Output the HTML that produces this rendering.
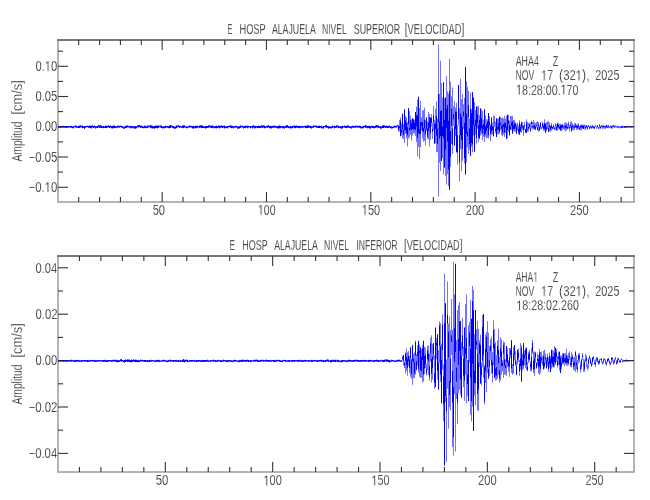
<!DOCTYPE html>
<html><head><meta charset="utf-8"><style>
html,body{margin:0;padding:0;background:#fff;}
svg{display:block;}
path.one{fill:#000;stroke:#fff;stroke-width:0.3px;vector-effect:non-scaling-stroke;}
text{font-family:"Liberation Sans",sans-serif;font-size:14px;fill:#000;stroke:#fff;stroke-width:0.3px;font-kerning:none;will-change:transform;}
</style></head><body>
<svg width="650" height="500" viewBox="0 0 650 500">
<rect width="650" height="500" fill="#fff"/>
<g class="t">
<text x="227.39" y="33.6" textLength="4.92" lengthAdjust="spacingAndGlyphs" font-size="14">E</text>
<text x="239.44" y="33.6" textLength="26.25" lengthAdjust="spacingAndGlyphs" font-size="14">HOSP</text>
<text x="271.88" y="33.6" textLength="43.93" lengthAdjust="spacingAndGlyphs" font-size="14">ALAJUELA</text>
<text x="322.00" y="33.6" textLength="24.79" lengthAdjust="spacingAndGlyphs" font-size="14">NIVEL</text>
<text x="353.70" y="33.6" textLength="46.52" lengthAdjust="spacingAndGlyphs" font-size="14">SUPERIOR</text>
<text x="404.67" y="33.6" textLength="59.56" lengthAdjust="spacingAndGlyphs" font-size="14"><tspan font-size="15.40">[</tspan>VELOCIDAD<tspan font-size="15.40">]</tspan></text>
<text x="229.53" y="249.8" textLength="5.41" lengthAdjust="spacingAndGlyphs" font-size="14">E</text>
<text x="242.16" y="249.8" textLength="25.62" lengthAdjust="spacingAndGlyphs" font-size="14">HOSP</text>
<text x="274.18" y="249.8" textLength="43.63" lengthAdjust="spacingAndGlyphs" font-size="14">ALAJUELA</text>
<text x="323.99" y="249.8" textLength="25.00" lengthAdjust="spacingAndGlyphs" font-size="14">NIVEL</text>
<text x="356.40" y="249.8" textLength="41.20" lengthAdjust="spacingAndGlyphs" font-size="14">INFERIOR</text>
<text x="403.88" y="249.8" textLength="58.64" lengthAdjust="spacingAndGlyphs" font-size="14"><tspan font-size="15.40">[</tspan>VELOCIDAD<tspan font-size="15.40">]</tspan></text>
<text x="35.46" y="71.0" textLength="21.88" lengthAdjust="spacingAndGlyphs" font-size="14">0. 0</text><path class="one" d="M515,0L515,1237L197,1010L197,1180L530,1409L696,1409L696,0Z" transform="translate(44.836,71.0) scale(0.005489,-0.006836)"/>
<text x="35.46" y="101.2" textLength="21.91" lengthAdjust="spacingAndGlyphs" font-size="14">0.05</text>
<text x="35.46" y="131.4" textLength="21.88" lengthAdjust="spacingAndGlyphs" font-size="14">0.00</text>
<text x="28.54" y="161.7" textLength="28.84" lengthAdjust="spacingAndGlyphs" font-size="14">−0.05</text>
<text x="28.54" y="192.0" textLength="28.81" lengthAdjust="spacingAndGlyphs" font-size="14">−0. 0</text><path class="one" d="M515,0L515,1237L197,1010L197,1180L530,1409L696,1409L696,0Z" transform="translate(44.682,192.0) scale(0.005559,-0.006836)"/>
<text x="35.46" y="272.5" textLength="21.76" lengthAdjust="spacingAndGlyphs" font-size="14">0.04</text>
<text x="35.46" y="318.9" textLength="22.01" lengthAdjust="spacingAndGlyphs" font-size="14">0.02</text>
<text x="35.46" y="365.3" textLength="21.88" lengthAdjust="spacingAndGlyphs" font-size="14">0.00</text>
<text x="28.54" y="411.7" textLength="28.94" lengthAdjust="spacingAndGlyphs" font-size="14">−0.02</text>
<text x="28.54" y="458.1" textLength="28.69" lengthAdjust="spacingAndGlyphs" font-size="14">−0.04</text>
<text x="152.65" y="214.8" textLength="12.38" lengthAdjust="spacingAndGlyphs" font-size="14">50</text>
<text x="258.00" y="214.8" textLength="17.62" lengthAdjust="spacingAndGlyphs" font-size="14"> 00</text><path class="one" d="M515,0L515,1237L197,1010L197,1180L530,1409L696,1409L696,0Z" transform="translate(257.996,214.8) scale(0.005156,-0.006836)"/>
<text x="361.87" y="214.8" textLength="18.26" lengthAdjust="spacingAndGlyphs" font-size="14"> 50</text><path class="one" d="M515,0L515,1237L197,1010L197,1180L530,1409L696,1409L696,0Z" transform="translate(361.866,214.8) scale(0.005344,-0.006836)"/>
<text x="465.74" y="214.8" textLength="18.49" lengthAdjust="spacingAndGlyphs" font-size="14">200</text>
<text x="570.04" y="214.8" textLength="18.60" lengthAdjust="spacingAndGlyphs" font-size="14">250</text>
<text x="155.74" y="485.4" textLength="12.70" lengthAdjust="spacingAndGlyphs" font-size="14">50</text>
<text x="263.47" y="485.4" textLength="18.26" lengthAdjust="spacingAndGlyphs" font-size="14"> 00</text><path class="one" d="M515,0L515,1237L197,1010L197,1180L530,1409L696,1409L696,0Z" transform="translate(263.466,485.4) scale(0.005344,-0.006836)"/>
<text x="371.48" y="485.4" textLength="17.94" lengthAdjust="spacingAndGlyphs" font-size="14"> 50</text><path class="one" d="M515,0L515,1237L197,1010L197,1180L530,1409L696,1409L696,0Z" transform="translate(371.481,485.4) scale(0.005250,-0.006836)"/>
<text x="478.04" y="485.4" textLength="18.60" lengthAdjust="spacingAndGlyphs" font-size="14">200</text>
<text x="585.45" y="485.4" textLength="18.17" lengthAdjust="spacingAndGlyphs" font-size="14">250</text>
<text transform="rotate(-90)" x="-161.52" y="21.5" textLength="39.98" lengthAdjust="spacingAndGlyphs">Amplitud</text>
<text transform="rotate(-90)" x="-114.80" y="21.5" textLength="34.81" lengthAdjust="spacingAndGlyphs"><tspan font-size="15.40">[</tspan>cm/s<tspan font-size="15.40">]</tspan></text>
<text transform="rotate(-90)" x="-404.52" y="21.5" textLength="39.98" lengthAdjust="spacingAndGlyphs">Amplitud</text>
<text transform="rotate(-90)" x="-357.80" y="21.5" textLength="34.81" lengthAdjust="spacingAndGlyphs"><tspan font-size="15.40">[</tspan>cm/s<tspan font-size="15.40">]</tspan></text>
<text x="515.68" y="65.9" textLength="23.18" lengthAdjust="spacingAndGlyphs" font-size="14">AHA4</text>
<text x="552.71" y="65.9" textLength="5.57" lengthAdjust="spacingAndGlyphs" font-size="14">Z</text>
<text x="515.48" y="80.2" textLength="18.96" lengthAdjust="spacingAndGlyphs" font-size="14">NOV</text>
<text x="541.18" y="80.2" textLength="11.96" lengthAdjust="spacingAndGlyphs" font-size="14"> 7</text><path class="one" d="M515,0L515,1237L197,1010L197,1180L530,1409L696,1409L696,0Z" transform="translate(541.181,80.2) scale(0.005250,-0.006836)"/>
<text x="559.04" y="80.2" textLength="30.28" lengthAdjust="spacingAndGlyphs" font-size="14"><tspan font-size="15.12">(</tspan>32 <tspan font-size="15.12">)</tspan>,</text><path class="one" d="M515,0L515,1237L197,1010L197,1180L530,1409L696,1409L696,0Z" transform="translate(575.761,80.2) scale(0.005547,-0.006836)"/>
<text x="595.25" y="80.2" textLength="24.20" lengthAdjust="spacingAndGlyphs" font-size="14">2025</text>
<text x="516.09" y="94.5" textLength="62.33" lengthAdjust="spacingAndGlyphs" font-size="14"> 8:28:00. 70</text><path class="one" d="M515,0L515,1237L197,1010L197,1180L530,1409L696,1409L696,0Z" transform="translate(516.087,94.5) scale(0.005212,-0.006836)"/><path class="one" d="M515,0L515,1237L197,1010L197,1180L530,1409L696,1409L696,0Z" transform="translate(560.606,94.5) scale(0.005212,-0.006836)"/>
<text x="515.68" y="281.9" textLength="22.13" lengthAdjust="spacingAndGlyphs" font-size="14">AHA </text><path class="one" d="M515,0L515,1237L197,1010L197,1180L530,1409L696,1409L696,0Z" transform="translate(533.102,281.9) scale(0.004136,-0.006836)"/>
<text x="552.71" y="281.9" textLength="5.57" lengthAdjust="spacingAndGlyphs" font-size="14">Z</text>
<text x="515.48" y="295.9" textLength="18.96" lengthAdjust="spacingAndGlyphs" font-size="14">NOV</text>
<text x="541.18" y="295.9" textLength="11.96" lengthAdjust="spacingAndGlyphs" font-size="14"> 7</text><path class="one" d="M515,0L515,1237L197,1010L197,1180L530,1409L696,1409L696,0Z" transform="translate(541.181,295.9) scale(0.005250,-0.006836)"/>
<text x="559.04" y="295.9" textLength="30.28" lengthAdjust="spacingAndGlyphs" font-size="14"><tspan font-size="15.12">(</tspan>32 <tspan font-size="15.12">)</tspan>,</text><path class="one" d="M515,0L515,1237L197,1010L197,1180L530,1409L696,1409L696,0Z" transform="translate(575.761,295.9) scale(0.005547,-0.006836)"/>
<text x="595.25" y="295.9" textLength="24.20" lengthAdjust="spacingAndGlyphs" font-size="14">2025</text>
<text x="516.28" y="310.4" textLength="62.64" lengthAdjust="spacingAndGlyphs" font-size="14"> 8:28:02.260</text><path class="one" d="M515,0L515,1237L197,1010L197,1180L530,1409L696,1409L696,0Z" transform="translate(516.283,310.4) scale(0.005238,-0.006836)"/>
</g>
<g stroke="#333" stroke-width="1.1">
<rect x="57" y="39" width="2" height="164" fill="#b4b4b4" stroke="none"/>
<rect x="633" y="39" width="2" height="164" fill="#b4b4b4" stroke="none"/>
<rect x="57" y="201" width="578" height="2" fill="#b4b4b4" stroke="none"/>
<rect x="57" y="39" width="578" height="2" fill="#777" stroke="none"/>
<line x1="78.71" y1="40" x2="78.71" y2="45" />
<line x1="78.71" y1="202" x2="78.71" y2="197" />
<line x1="99.58" y1="40" x2="99.58" y2="45" />
<line x1="99.58" y1="202" x2="99.58" y2="197" />
<line x1="120.44" y1="40" x2="120.44" y2="45" />
<line x1="120.44" y1="202" x2="120.44" y2="197" />
<line x1="141.30" y1="40" x2="141.30" y2="45" />
<line x1="141.30" y1="202" x2="141.30" y2="197" />
<line x1="162.16" y1="40" x2="162.16" y2="50" />
<line x1="162.16" y1="202" x2="162.16" y2="192" />
<line x1="183.03" y1="40" x2="183.03" y2="45" />
<line x1="183.03" y1="202" x2="183.03" y2="197" />
<line x1="203.89" y1="40" x2="203.89" y2="45" />
<line x1="203.89" y1="202" x2="203.89" y2="197" />
<line x1="224.75" y1="40" x2="224.75" y2="45" />
<line x1="224.75" y1="202" x2="224.75" y2="197" />
<line x1="245.62" y1="40" x2="245.62" y2="45" />
<line x1="245.62" y1="202" x2="245.62" y2="197" />
<line x1="266.48" y1="40" x2="266.48" y2="50" />
<line x1="266.48" y1="202" x2="266.48" y2="192" />
<line x1="287.34" y1="40" x2="287.34" y2="45" />
<line x1="287.34" y1="202" x2="287.34" y2="197" />
<line x1="308.21" y1="40" x2="308.21" y2="45" />
<line x1="308.21" y1="202" x2="308.21" y2="197" />
<line x1="329.07" y1="40" x2="329.07" y2="45" />
<line x1="329.07" y1="202" x2="329.07" y2="197" />
<line x1="349.93" y1="40" x2="349.93" y2="45" />
<line x1="349.93" y1="202" x2="349.93" y2="197" />
<line x1="370.80" y1="40" x2="370.80" y2="50" />
<line x1="370.80" y1="202" x2="370.80" y2="192" />
<line x1="391.66" y1="40" x2="391.66" y2="45" />
<line x1="391.66" y1="202" x2="391.66" y2="197" />
<line x1="412.52" y1="40" x2="412.52" y2="45" />
<line x1="412.52" y1="202" x2="412.52" y2="197" />
<line x1="433.38" y1="40" x2="433.38" y2="45" />
<line x1="433.38" y1="202" x2="433.38" y2="197" />
<line x1="454.25" y1="40" x2="454.25" y2="45" />
<line x1="454.25" y1="202" x2="454.25" y2="197" />
<line x1="475.11" y1="40" x2="475.11" y2="50" />
<line x1="475.11" y1="202" x2="475.11" y2="192" />
<line x1="495.97" y1="40" x2="495.97" y2="45" />
<line x1="495.97" y1="202" x2="495.97" y2="197" />
<line x1="516.84" y1="40" x2="516.84" y2="45" />
<line x1="516.84" y1="202" x2="516.84" y2="197" />
<line x1="537.70" y1="40" x2="537.70" y2="45" />
<line x1="537.70" y1="202" x2="537.70" y2="197" />
<line x1="558.56" y1="40" x2="558.56" y2="45" />
<line x1="558.56" y1="202" x2="558.56" y2="197" />
<line x1="579.43" y1="40" x2="579.43" y2="50" />
<line x1="579.43" y1="202" x2="579.43" y2="192" />
<line x1="600.29" y1="40" x2="600.29" y2="45" />
<line x1="600.29" y1="202" x2="600.29" y2="197" />
<line x1="621.15" y1="40" x2="621.15" y2="45" />
<line x1="621.15" y1="202" x2="621.15" y2="197" />
<line x1="58" y1="66.30" x2="68" y2="66.30" />
<line x1="634" y1="66.30" x2="624" y2="66.30" />
<line x1="58" y1="96.50" x2="68" y2="96.50" />
<line x1="634" y1="96.50" x2="624" y2="96.50" />
<line x1="58" y1="126.70" x2="68" y2="126.70" />
<line x1="634" y1="126.70" x2="624" y2="126.70" />
<line x1="58" y1="157.00" x2="68" y2="157.00" />
<line x1="634" y1="157.00" x2="624" y2="157.00" />
<line x1="58" y1="187.30" x2="68" y2="187.30" />
<line x1="634" y1="187.30" x2="624" y2="187.30" />
<line x1="58" y1="51.20" x2="63" y2="51.20" />
<line x1="634" y1="51.20" x2="629" y2="51.20" />
<line x1="58" y1="81.40" x2="63" y2="81.40" />
<line x1="634" y1="81.40" x2="629" y2="81.40" />
<line x1="58" y1="111.60" x2="63" y2="111.60" />
<line x1="634" y1="111.60" x2="629" y2="111.60" />
<line x1="58" y1="141.90" x2="63" y2="141.90" />
<line x1="634" y1="141.90" x2="629" y2="141.90" />
<line x1="58" y1="172.10" x2="63" y2="172.10" />
<line x1="634" y1="172.10" x2="629" y2="172.10" />
<rect x="57" y="255" width="2" height="218" fill="#b4b4b4" stroke="none"/>
<rect x="633" y="255" width="2" height="218" fill="#b4b4b4" stroke="none"/>
<rect x="57" y="471" width="578" height="2" fill="#b4b4b4" stroke="none"/>
<rect x="57" y="255" width="578" height="2" fill="#777" stroke="none"/>
<line x1="79.44" y1="256" x2="79.44" y2="261" />
<line x1="79.44" y1="472" x2="79.44" y2="467" />
<line x1="100.91" y1="256" x2="100.91" y2="261" />
<line x1="100.91" y1="472" x2="100.91" y2="467" />
<line x1="122.38" y1="256" x2="122.38" y2="261" />
<line x1="122.38" y1="472" x2="122.38" y2="467" />
<line x1="143.85" y1="256" x2="143.85" y2="261" />
<line x1="143.85" y1="472" x2="143.85" y2="467" />
<line x1="165.31" y1="256" x2="165.31" y2="266" />
<line x1="165.31" y1="472" x2="165.31" y2="462" />
<line x1="186.78" y1="256" x2="186.78" y2="261" />
<line x1="186.78" y1="472" x2="186.78" y2="467" />
<line x1="208.25" y1="256" x2="208.25" y2="261" />
<line x1="208.25" y1="472" x2="208.25" y2="467" />
<line x1="229.72" y1="256" x2="229.72" y2="261" />
<line x1="229.72" y1="472" x2="229.72" y2="467" />
<line x1="251.19" y1="256" x2="251.19" y2="261" />
<line x1="251.19" y1="472" x2="251.19" y2="467" />
<line x1="272.66" y1="256" x2="272.66" y2="266" />
<line x1="272.66" y1="472" x2="272.66" y2="462" />
<line x1="294.13" y1="256" x2="294.13" y2="261" />
<line x1="294.13" y1="472" x2="294.13" y2="467" />
<line x1="315.60" y1="256" x2="315.60" y2="261" />
<line x1="315.60" y1="472" x2="315.60" y2="467" />
<line x1="337.07" y1="256" x2="337.07" y2="261" />
<line x1="337.07" y1="472" x2="337.07" y2="467" />
<line x1="358.54" y1="256" x2="358.54" y2="261" />
<line x1="358.54" y1="472" x2="358.54" y2="467" />
<line x1="380.00" y1="256" x2="380.00" y2="266" />
<line x1="380.00" y1="472" x2="380.00" y2="462" />
<line x1="401.47" y1="256" x2="401.47" y2="261" />
<line x1="401.47" y1="472" x2="401.47" y2="467" />
<line x1="422.94" y1="256" x2="422.94" y2="261" />
<line x1="422.94" y1="472" x2="422.94" y2="467" />
<line x1="444.41" y1="256" x2="444.41" y2="261" />
<line x1="444.41" y1="472" x2="444.41" y2="467" />
<line x1="465.88" y1="256" x2="465.88" y2="261" />
<line x1="465.88" y1="472" x2="465.88" y2="467" />
<line x1="487.35" y1="256" x2="487.35" y2="266" />
<line x1="487.35" y1="472" x2="487.35" y2="462" />
<line x1="508.82" y1="256" x2="508.82" y2="261" />
<line x1="508.82" y1="472" x2="508.82" y2="467" />
<line x1="530.29" y1="256" x2="530.29" y2="261" />
<line x1="530.29" y1="472" x2="530.29" y2="467" />
<line x1="551.76" y1="256" x2="551.76" y2="261" />
<line x1="551.76" y1="472" x2="551.76" y2="467" />
<line x1="573.23" y1="256" x2="573.23" y2="261" />
<line x1="573.23" y1="472" x2="573.23" y2="467" />
<line x1="594.70" y1="256" x2="594.70" y2="266" />
<line x1="594.70" y1="472" x2="594.70" y2="462" />
<line x1="616.16" y1="256" x2="616.16" y2="261" />
<line x1="616.16" y1="472" x2="616.16" y2="467" />
<line x1="58" y1="267.80" x2="68" y2="267.80" />
<line x1="634" y1="267.80" x2="624" y2="267.80" />
<line x1="58" y1="314.20" x2="68" y2="314.20" />
<line x1="634" y1="314.20" x2="624" y2="314.20" />
<line x1="58" y1="360.60" x2="68" y2="360.60" />
<line x1="634" y1="360.60" x2="624" y2="360.60" />
<line x1="58" y1="407.00" x2="68" y2="407.00" />
<line x1="634" y1="407.00" x2="624" y2="407.00" />
<line x1="58" y1="453.40" x2="68" y2="453.40" />
<line x1="634" y1="453.40" x2="624" y2="453.40" />
<line x1="58" y1="291.00" x2="63" y2="291.00" />
<line x1="634" y1="291.00" x2="629" y2="291.00" />
<line x1="58" y1="337.40" x2="63" y2="337.40" />
<line x1="634" y1="337.40" x2="629" y2="337.40" />
<line x1="58" y1="383.80" x2="63" y2="383.80" />
<line x1="634" y1="383.80" x2="629" y2="383.80" />
<line x1="58" y1="430.20" x2="63" y2="430.20" />
<line x1="634" y1="430.20" x2="629" y2="430.20" />
</g>
<g stroke="#0000ff" stroke-width="1" fill="none" stroke-linecap="butt">
<path d="M397.5 124.5V127.3M398.5 124.9V131.9M399.5 119.8V131.3M400.5 117.5V136.2M401.5 122.9V135.7M402.5 113.9V138.7M403.5 124.0V138.7M404.5 109.4V143.0M405.5 115.7V133.8M406.5 117.2V138.2M407.5 122.0V146.4M408.5 108.1V138.7M409.5 110.9V137.0M410.5 115.7V134.6M411.5 119.4V140.4M412.5 118.4V135.6M413.5 119.3V133.3M414.5 119.6V133.6M415.5 112.0V136.0M416.5 106.8V142.1M417.5 99.5V156.6M418.5 96.8V146.8M419.5 108.0V159.1M420.5 101.0V147.2M421.5 117.4V130.4M422.5 110.3V138.7M423.5 110.3V141.7M424.5 107.6V140.8M425.5 120.2V145.5M426.5 117.5V130.8M427.5 121.3V139.2M428.5 112.0V139.3M429.5 114.0V146.4M430.5 117.5V139.8M431.5 114.0V126.5M432.5 122.6V139.0M433.5 105.8V130.4M434.5 119.7V143.8M435.5 108.5V143.2M436.5 101.3V152.3M437.5 118.7V152.0M438.5 44.5V196.5M439.5 94.0V162.7M440.5 60.7V171.0M441.5 83.1V160.8M442.5 97.7V157.9M443.5 82.3V174.4M444.5 98.2V167.6M445.5 97.7V176.1M446.5 76.0V184.6M447.5 91.4V174.2M448.5 93.8V185.9M449.5 58.9V189.7M450.5 81.4V166.9M451.5 96.2V144.1M452.5 87.7V154.0M453.5 106.2V126.0M454.5 101.3V145.5M455.5 107.6V136.3M456.5 102.8V152.3M457.5 125.4V164.4M458.5 85.0V125.4M459.5 108.3V181.2M460.5 78.7V149.4M461.5 99.3V171.0M462.5 94.0V160.8M463.5 104.2V128.9M464.5 97.7V163.6M465.5 67.0V174.4M466.5 81.4V162.5M467.5 86.8V147.4M468.5 90.9V154.0M469.5 118.6V149.9M470.5 92.3V155.7M471.5 109.2V146.7M472.5 92.3V152.3M473.5 97.7V135.6M474.5 102.2V151.5M475.5 109.9V134.7M476.5 106.7V143.8M477.5 106.4V128.6M478.5 105.8V142.1M479.5 115.2V138.7M480.5 108.5V135.6M481.5 109.4V134.2M482.5 111.2V140.4M483.5 119.7V136.8M484.5 109.4V142.0M485.5 115.7V136.7M486.5 119.4V138.3M487.5 119.4V137.9M488.5 113.0V138.5M489.5 116.0V129.6M490.5 124.4V141.3M491.5 117.5V135.1M492.5 122.8V134.3M493.5 115.7V136.2M494.5 116.0V127.1M495.5 122.2V133.4M496.5 118.4V137.0M497.5 118.7V134.2M498.5 118.4V134.5M499.5 116.6V134.2M500.5 117.1V130.5M501.5 117.8V135.4M502.5 117.5V136.2M503.5 118.5V134.6M504.5 115.7V136.8M505.5 118.6V133.0M506.5 115.7V138.7M507.5 114.8V138.2M508.5 114.8V131.9M509.5 120.7V135.3M510.5 115.7V130.2M511.5 116.0V129.7M512.5 115.7V133.6M513.5 119.9V131.3M514.5 119.9V131.6M515.5 122.0V131.6M516.5 123.9V133.6M517.5 122.8V130.3M518.5 125.6V134.7M519.5 120.2V134.5M520.5 124.3V132.3M521.5 121.3V132.7M522.5 122.0V130.2M523.5 125.2V136.2M524.5 121.9V129.5M525.5 128.7V133.2M526.5 119.3V132.8M527.5 121.8V131.6M528.5 122.8V131.5M529.5 122.8V128.8M530.5 122.9V131.9M531.5 120.7V128.5M532.5 121.9V129.4M533.5 120.2V129.4M534.5 122.1V129.8M535.5 123.0V130.2M536.5 122.1V127.4M537.5 121.1V130.0M538.5 122.1V131.9M539.5 125.4V130.9M540.5 122.0V129.0M541.5 127.2V129.4M542.5 121.6V128.2M543.5 123.6V130.7M544.5 119.3V130.7M545.5 122.9V132.8M546.5 122.3V131.1M547.5 121.5V129.0M548.5 121.1V131.9M549.5 122.5V131.5M550.5 125.8V131.7M551.5 122.9V130.7M552.5 126.6V129.5M553.5 124.1V129.0M554.5 126.7V130.3M555.5 123.2V129.8M556.5 124.5V130.8M557.5 122.5V130.8M558.5 122.9V128.8M559.5 124.1V129.8M560.5 123.6V131.0M561.5 124.2V131.0M562.5 123.9V129.8M563.5 125.3V129.2M564.5 123.0V130.1M565.5 122.5V131.5M566.5 122.5V130.6M567.5 123.8V129.1M568.5 121.6V128.7M569.5 125.3V131.4M570.5 121.9V128.2M571.5 121.2V131.5M572.5 123.2V130.1M573.5 124.8V130.1M574.5 123.5V130.3M575.5 123.0V128.1M576.5 124.3V129.9M577.5 124.5V129.6M578.5 123.1V129.6M579.5 126.5V130.0M580.5 124.9V130.4M581.5 124.4V130.4M582.5 124.5V128.9M583.5 124.6V129.2M584.5 124.7V129.2M585.5 125.4V130.0M586.5 124.9V128.4M587.5 125.3V129.6M588.5 125.1V126.9M589.5 126.1V129.4M590.5 124.9V128.3M591.5 125.9V128.8M592.5 124.8V127.9M593.5 126.0V129.0M594.5 125.8V129.0M595.5 124.8V126.6M596.5 126.4V128.9M597.5 125.1V127.5M598.5 126.9V129.2M599.5 124.1V128.7M600.5 125.8V129.0M601.5 125.1V127.4M602.5 125.3V128.9M603.5 124.6V128.6M604.5 125.7V128.8M605.5 125.6V128.7M606.5 124.6V128.0M607.5 125.0V128.1M608.5 124.9V128.1M609.5 126.7V128.4M610.5 125.2V127.9M611.5 125.9V128.9M612.5 125.1V128.5M613.5 124.6V127.4M614.5 125.8V128.0M615.5 125.1V127.4M616.5 126.4V127.9M617.5 125.5V128.2M618.5 125.9V128.2M619.5 126.6V128.3M620.5 126.4V128.1M621.5 125.7V128.1M622.5 126.0V127.8M623.5 125.8V127.9M624.5 126.3V128.1M625.5 126.1V127.9M626.5 126.5V127.9M627.5 126.4V127.8M628.5 125.8V127.4M629.5 126.2V127.2M630.5 126.2V127.4M631.5 126.2V127.5M632.5 126.1V127.3M633.5 126.6V127.5" stroke-opacity="0.55"/>
<path d="M402.5 355.8V360.9M403.5 355.0V365.5M404.5 360.9V368.0M405.5 352.4V373.4M406.5 348.5V370.9M407.5 352.4V375.7M408.5 351.0V366.0M409.5 356.0V372.5M410.5 347.4V376.8M411.5 358.5V378.6M412.5 345.2V384.9M413.5 353.9V378.0M414.5 352.6V378.0M415.5 340.6V374.5M416.5 354.2V370.6M417.5 345.1V365.8M418.5 340.8V372.6M419.5 344.6V376.8M420.5 347.4V377.8M421.5 349.3V377.8M422.5 344.9V382.6M423.5 340.8V381.4M424.5 346.9V374.3M425.5 347.5V368.4M426.5 363.7V375.4M427.5 345.6V370.3M428.5 345.6V375.0M429.5 353.0V380.7M430.5 337.8V361.7M431.5 335.3V382.6M432.5 344.1V379.7M433.5 343.0V359.6M434.5 355.2V388.7M435.5 327.6V387.2M436.5 338.2V359.0M437.5 334.2V379.8M438.5 350.4V389.5M439.5 321.3V363.1M440.5 323.2V381.8M441.5 343.6V403.3M442.5 314.4V369.7M443.5 364.4V421.5M444.5 273.7V465.4M445.5 303.4V402.0M446.5 359.3V461.8M447.5 281.4V388.7M448.5 323.6V428.6M449.5 316.6V407.1M450.5 330.2V410.2M451.5 299.0V354.8M452.5 329.9V447.0M453.5 261.6V455.6M454.5 294.6V394.1M455.5 263.8V451.6M456.5 340.1V398.9M457.5 310.0V424.0M458.5 305.1V393.1M459.5 302.3V389.5M460.5 321.0V394.8M461.5 341.9V397.5M462.5 317.7V356.2M463.5 346.6V387.4M464.5 327.6V401.0M465.5 304.0V374.6M466.5 294.6V403.3M467.5 360.0V395.7M468.5 325.4V401.0M469.5 321.8V362.4M470.5 300.0V414.8M471.5 318.8V421.6M472.5 285.8V406.6M473.5 289.6V430.9M474.5 334.1V395.7M475.5 310.0V405.6M476.5 329.4V349.7M477.5 321.0V410.2M478.5 328.9V411.0M479.5 340.3V367.0M480.5 334.6V383.5M481.5 362.7V385.4M482.5 315.0V367.1M483.5 314.0V377.8M484.5 365.0V404.3M485.5 334.6V383.0M486.5 331.9V392.0M487.5 321.3V373.0M488.5 332.7V379.1M489.5 346.1V375.9M490.5 339.3V359.5M491.5 336.5V373.8M492.5 352.0V382.6M493.5 320.4V365.0M494.5 328.7V377.8M495.5 342.2V380.6M496.5 354.8V380.4M497.5 340.2V378.8M498.5 328.9V374.8M499.5 356.8V382.4M500.5 337.0V380.6M501.5 339.4V374.7M502.5 359.9V371.4M503.5 341.3V377.8M504.5 342.2V374.5M505.5 359.6V374.9M506.5 346.0V375.9M507.5 348.4V367.4M508.5 360.0V371.8M509.5 347.9V376.9M510.5 347.9V358.2M511.5 340.3V373.1M512.5 363.9V374.7M513.5 346.7V374.0M514.5 345.0V360.4M515.5 351.4V366.0M516.5 360.7V375.0M517.5 349.8V364.7M518.5 348.3V362.0M519.5 360.1V375.9M520.5 343.2V369.6M521.5 345.2V381.6M522.5 353.7V370.4M523.5 343.2V369.1M524.5 350.5V365.4M525.5 347.4V368.3M526.5 347.9V370.2M527.5 362.1V371.3M528.5 351.7V363.0M529.5 349.8V361.6M530.5 361.2V371.2M531.5 347.6V371.3M532.5 340.0V353.8M533.5 351.4V373.1M534.5 351.7V375.9M535.5 351.7V362.5M536.5 362.5V368.3M537.5 353.6V365.5M538.5 354.8V373.6M539.5 348.8V375.0M540.5 352.0V372.9M541.5 351.4V362.8M542.5 355.6V365.8M543.5 350.9V369.3M544.5 349.8V368.5M545.5 353.5V363.9M546.5 357.4V368.3M547.5 353.6V365.9M548.5 357.4V371.8M549.5 352.7V367.5M550.5 355.9V372.1M551.5 349.8V368.8M552.5 350.0V367.2M553.5 351.1V367.7M554.5 346.0V367.4M555.5 347.9V365.0M556.5 348.8V361.8M557.5 356.2V367.5M558.5 351.7V365.4M559.5 351.7V370.6M560.5 355.4V373.0M561.5 355.4V369.1M562.5 353.0V364.2M563.5 353.6V364.1M564.5 353.4V366.4M565.5 353.2V364.4M566.5 348.9V365.7M567.5 355.2V365.5M568.5 352.9V365.2M569.5 351.4V360.2M570.5 357.4V367.0M571.5 352.2V367.6M572.5 354.2V361.8M573.5 357.5V370.3M574.5 356.9V370.3M575.5 351.6V371.9M576.5 355.2V369.6M577.5 359.9V372.6M578.5 353.3V363.6M579.5 353.0V362.3M580.5 362.3V372.6M581.5 358.5V369.2M582.5 353.1V359.6M583.5 358.9V371.8M584.5 359.5V371.8M585.5 353.8V362.0M586.5 355.1V367.1M587.5 364.2V370.4M588.5 358.0V368.5M589.5 355.6V359.8M590.5 357.7V364.2M591.5 361.9V366.8M592.5 356.6V364.8M593.5 356.2V360.3M594.5 360.3V364.8M595.5 359.3V367.0M596.5 357.0V361.8M597.5 357.4V362.2M598.5 360.6V364.9M599.5 358.9V364.1M600.5 358.8V360.1M601.5 358.2V362.6M602.5 361.4V364.5M603.5 358.0V363.9M604.5 358.4V360.3M605.5 359.2V364.3M606.5 361.7V365.8M607.5 358.4V362.6M608.5 357.9V361.3M609.5 360.2V364.6M610.5 362.2V365.1M611.5 357.2V363.0M612.5 357.6V362.0M613.5 360.5V364.6M614.5 358.9V363.5M615.5 356.8V360.3M616.5 360.1V364.7M617.5 357.9V363.7M618.5 358.0V360.5M619.5 360.1V362.9M620.5 359.4V362.6M621.5 358.4V360.3M622.5 360.0V362.2M623.5 359.7V362.2M624.5 360.0V361.2M625.5 360.5V361.9M626.5 359.4V361.1M627.5 360.1V361.6M628.5 360.1V361.4M629.5 359.9V361.0M630.5 360.6V361.2M631.5 360.1V361.1M632.5 360.1V360.9M633.5 360.7V361.0" stroke-opacity="0.55"/>
<path d="M58.5 126.2V127.8M59.5 126.1V127.6M60.5 126.2V127.8M61.5 126.0V127.6M62.5 126.3V127.6M63.5 125.8V127.5M64.5 126.0V127.6M65.5 126.2V127.7M66.5 126.2V127.8M67.5 126.3V127.6M68.5 126.0V127.7M69.5 126.1V127.3M70.5 125.9V127.9M71.5 125.8V127.7M72.5 126.3V128.2M73.5 126.3V128.4M74.5 125.9V127.3M75.5 125.5V127.3M76.5 125.8V127.9M77.5 126.4V127.8M78.5 125.9V128.0M79.5 125.6V128.0M80.5 125.2V127.5M81.5 125.9V127.5M82.5 125.6V128.1M83.5 126.4V128.0M84.5 126.1V128.8M85.5 126.0V127.7M86.5 126.1V127.4M87.5 125.7V127.1M88.5 126.0V127.9M89.5 125.5V127.7M90.5 125.7V128.2M91.5 125.6V128.4M92.5 125.4V127.4M93.5 125.9V127.9M94.5 125.5V127.7M95.5 126.3V128.5M96.5 126.4V128.0M97.5 126.0V128.1M98.5 125.2V127.4M99.5 125.4V127.9M100.5 125.4V127.9M101.5 125.6V128.0M102.5 126.2V127.9M103.5 125.9V128.2M104.5 126.3V127.9M105.5 125.7V128.1M106.5 125.8V128.0M107.5 125.8V127.6M108.5 125.5V127.4M109.5 125.7V128.0M110.5 125.6V127.5M111.5 126.1V128.3M112.5 125.9V128.5M113.5 125.6V128.0M114.5 125.5V128.2M115.5 126.0V127.8M116.5 126.5V128.1M117.5 125.7V127.8M118.5 125.6V127.4M119.5 125.9V127.8M120.5 125.6V127.1M121.5 125.9V127.8M122.5 126.0V127.7M123.5 126.7V128.9M124.5 126.6V128.5M125.5 125.9V128.1M126.5 125.5V128.0M127.5 125.5V127.3M128.5 126.1V127.5M129.5 125.6V127.6M130.5 126.3V128.4M131.5 126.0V128.2M132.5 126.0V127.7M133.5 126.3V128.4M134.5 126.2V128.5M135.5 126.1V128.7M136.5 126.3V128.3M137.5 125.6V127.3M138.5 125.0V127.4M139.5 125.1V127.2M140.5 125.7V127.8M141.5 125.7V127.7M142.5 126.1V128.1M143.5 126.5V128.2M144.5 125.7V127.9M145.5 125.9V128.3M146.5 126.4V128.1M147.5 125.4V127.8M148.5 125.7V127.4M149.5 125.7V127.3M150.5 125.1V127.8M151.5 125.4V128.2M152.5 125.9V128.5M153.5 126.1V128.2M154.5 125.9V128.7M155.5 125.7V128.2M156.5 125.7V128.0M157.5 125.4V128.3M158.5 125.7V128.0M159.5 125.7V127.1M160.5 125.4V127.5M161.5 125.7V128.0M162.5 126.5V128.4M163.5 126.3V128.2M164.5 126.3V128.4M165.5 125.7V127.9M166.5 126.1V127.7M167.5 125.9V127.6M168.5 126.2V128.2M169.5 125.4V128.2M170.5 125.1V128.0M171.5 125.6V127.2M172.5 125.9V127.8M173.5 126.1V128.2M174.5 126.6V128.9M175.5 126.6V128.5M176.5 125.5V128.2M177.5 125.6V127.3M178.5 125.1V127.1M179.5 126.0V127.8M180.5 125.8V127.6M181.5 126.4V127.8M182.5 125.6V127.9M183.5 125.3V128.1M184.5 125.4V127.6M185.5 126.4V127.8M186.5 126.3V128.2M187.5 126.5V128.2M188.5 126.0V127.5M189.5 125.5V127.7M190.5 125.5V127.3M191.5 126.0V127.6M192.5 126.0V128.4M193.5 125.9V128.7M194.5 126.3V127.9M195.5 125.7V128.3M196.5 125.9V128.3M197.5 125.7V127.7M198.5 126.0V127.4M199.5 125.5V128.1M200.5 125.3V127.7M201.5 125.4V128.0M202.5 125.5V128.0M203.5 126.1V128.1M204.5 126.5V128.0M205.5 125.9V128.6M206.5 126.0V128.1M207.5 126.0V127.9M208.5 125.5V127.8M209.5 125.2V127.4M210.5 125.8V127.7M211.5 125.6V128.0M212.5 125.5V128.3M213.5 125.9V127.7M214.5 126.2V128.4M215.5 126.1V128.0M216.5 125.7V128.4M217.5 126.1V128.0M218.5 125.7V127.7M219.5 125.4V128.3M220.5 125.8V127.8M221.5 125.4V127.6M222.5 125.8V128.1M223.5 125.8V127.5M224.5 125.5V128.4M225.5 126.4V128.2M226.5 126.5V128.1M227.5 126.1V128.4M228.5 125.9V127.4M229.5 125.6V127.1M230.5 125.5V127.9M231.5 125.6V128.2M232.5 125.9V127.9M233.5 126.2V128.5M234.5 126.1V127.6M235.5 125.8V127.7M236.5 125.9V127.6M237.5 126.4V128.7M238.5 126.4V128.5M239.5 126.2V128.5M240.5 125.5V127.9M241.5 125.8V127.2M242.5 125.6V127.6M243.5 126.4V128.5M244.5 125.8V127.9M245.5 125.6V128.2M246.5 125.9V127.5M247.5 125.8V128.2M248.5 125.9V127.5M249.5 126.1V127.5M250.5 126.0V128.3M251.5 126.2V127.6M252.5 125.5V128.4M253.5 125.3V127.6M254.5 126.1V128.5M255.5 125.9V128.2M256.5 126.1V127.6M257.5 126.0V128.2M258.5 125.7V128.1M259.5 126.0V128.1M260.5 125.8V127.9M261.5 125.5V127.6M262.5 125.5V128.1M263.5 125.4V127.5M264.5 125.6V128.4M265.5 126.4V128.0M266.5 126.2V127.7M267.5 125.4V127.8M268.5 125.3V127.4M269.5 126.1V128.1M270.5 125.7V128.5M271.5 126.1V128.4M272.5 125.8V127.8M273.5 125.7V127.8M274.5 125.8V127.7M275.5 125.7V127.6M276.5 126.0V127.9M277.5 126.3V128.4M278.5 125.6V128.5M279.5 125.5V128.3M280.5 125.9V128.2M281.5 126.0V127.5M282.5 126.0V128.4M283.5 126.2V128.3M284.5 126.2V128.5M285.5 125.8V127.8M286.5 125.4V127.8M287.5 125.1V127.7M288.5 126.0V128.1M289.5 126.6V128.2M290.5 125.8V128.5M291.5 126.3V128.3M292.5 125.9V128.3M293.5 125.7V127.4M294.5 125.6V128.1M295.5 125.8V128.2M296.5 125.6V127.7M297.5 125.9V127.8M298.5 126.0V127.9M299.5 125.8V128.4M300.5 125.9V127.7M301.5 126.3V128.0M302.5 125.8V127.7M303.5 126.2V127.7M304.5 125.9V127.4M305.5 125.7V128.2M306.5 125.7V128.0M307.5 125.4V128.1M308.5 125.4V127.8M309.5 125.8V127.7M310.5 125.8V128.1M311.5 126.2V128.6M312.5 126.2V127.8M313.5 125.3V127.8M314.5 125.8V127.1M315.5 125.7V127.2M316.5 125.5V127.6M317.5 126.2V128.0M318.5 125.9V128.0M319.5 125.6V128.0M320.5 126.0V127.6M321.5 125.7V128.4M322.5 126.6V128.3M323.5 125.8V128.6M324.5 126.1V127.3M325.5 125.4V127.4M326.5 124.9V127.7M327.5 125.9V127.8M328.5 126.1V128.6M329.5 126.5V128.3M330.5 126.5V128.4M331.5 126.3V128.4M332.5 125.6V127.8M333.5 126.2V127.6M334.5 125.9V128.3M335.5 125.9V127.8M336.5 125.3V127.9M337.5 125.4V127.3M338.5 125.9V128.1M339.5 126.4V128.2M340.5 126.2V128.2M341.5 126.1V128.8M342.5 125.7V128.3M343.5 126.0V127.5M344.5 125.6V127.5M345.5 125.9V128.0M346.5 126.0V128.1M347.5 125.4V127.6M348.5 125.5V127.9M349.5 126.2V127.8M350.5 126.4V128.1M351.5 126.3V128.6M352.5 125.7V127.7M353.5 125.9V127.8M354.5 126.0V127.6M355.5 125.7V127.8M356.5 125.7V127.3M357.5 125.8V127.6M358.5 125.8V127.7M359.5 125.7V127.7M360.5 125.9V128.2M361.5 126.6V128.7M362.5 126.3V128.3M363.5 125.9V128.2M364.5 125.6V127.3M365.5 125.1V127.8M366.5 125.5V127.7M367.5 126.0V128.3M368.5 126.0V128.0M369.5 125.7V128.6M370.5 126.2V128.6M371.5 125.9V127.7M372.5 125.8V127.9M373.5 125.8V128.2M374.5 126.4V128.2M375.5 125.5V127.9M376.5 125.2V127.7M377.5 125.3V127.3M378.5 125.6V128.1M379.5 126.5V128.0M380.5 126.2V128.6M381.5 126.4V128.7M382.5 125.5V128.0M383.5 125.2V128.0M384.5 125.4V127.5M385.5 126.1V128.0M386.5 125.6V127.8M387.5 125.8V127.9M388.5 125.9V127.9M389.5 125.7V127.7M390.5 126.3V128.1M391.5 126.4V128.6M392.5 126.7V128.4M393.5 126.3V128.0M394.5 125.6V127.5M395.5 125.8V127.5M396.5 125.8V127.6M397.5 125.4V125.9M398.5 126.1V129.8M399.5 126.2V128.0M400.5 120.5V136.2M401.5 129.7V132.9M402.5 113.9V129.1M403.5 130.0V134.8M404.5 109.4V130.4M405.5 120.3V130.0M406.5 122.8V133.1M407.5 127.2V135.4M408.5 108.1V123.9M409.5 127.9V130.4M410.5 120.4V128.8M411.5 123.5V130.1M412.5 118.4V129.1M413.5 119.3V129.4M414.5 122.7V129.4M415.5 112.0V129.9M416.5 115.3V126.4M417.5 115.3V137.8M418.5 96.8V133.2M419.5 129.4V134.1M420.5 122.2V134.1M421.5 122.2V126.0M422.5 122.2V131.1M423.5 128.0V132.0M424.5 119.3V128.7M425.5 129.3V134.6M426.5 117.5V129.3M427.5 128.6V137.0M428.5 122.9V131.3M429.5 117.2V127.8M430.5 117.5V133.3M431.5 118.1V122.6M432.5 128.9V132.0M433.5 115.3V122.4M434.5 123.7V143.8M435.5 123.2V128.7M436.5 115.8V135.6M437.5 128.5V143.9M438.5 94.1V122.2M439.5 121.4V138.6M440.5 110.9V136.2M441.5 110.4V160.8M442.5 126.5V135.9M443.5 82.3V137.8M444.5 119.8V167.6M445.5 97.7V149.7M446.5 108.7V128.1M447.5 104.9V141.7M448.5 120.7V169.6M449.5 91.0V189.7M450.5 131.3V156.8M451.5 108.4V125.7M452.5 128.5V144.6M453.5 114.3V119.2M454.5 126.1V145.5M455.5 111.6V129.1M456.5 111.6V152.3M457.5 135.2V152.3M458.5 85.0V119.1M459.5 135.1V162.6M460.5 113.5V135.3M461.5 116.8V139.8M462.5 126.6V148.6M463.5 111.5V116.5M464.5 122.8V158.3M465.5 67.0V174.4M466.5 113.5V133.4M467.5 131.6V136.3M468.5 105.2V117.1M469.5 128.5V144.1M470.5 109.0V155.7M471.5 113.1V143.0M472.5 92.3V144.5M473.5 97.7V124.9M474.5 124.9V151.5M475.5 119.6V125.9M476.5 106.7V138.4M477.5 114.7V122.9M478.5 125.0V136.9M479.5 119.9V138.7M480.5 108.5V130.8M481.5 118.4V128.2M482.5 125.5V133.2M483.5 124.1V129.1M484.5 109.4V135.0M485.5 126.2V133.5M486.5 124.3V130.7M487.5 121.8V128.1M488.5 113.0V135.4M489.5 121.9V124.9M490.5 125.8V134.0M491.5 117.5V131.6M492.5 126.1V129.9M493.5 126.9V136.2M494.5 121.7V123.0M495.5 128.8V131.1M496.5 118.4V137.0M497.5 126.9V129.6M498.5 123.6V129.7M499.5 116.6V131.8M500.5 122.9V124.8M501.5 125.8V128.8M502.5 124.8V132.7M503.5 124.0V127.2M504.5 122.9V132.7M505.5 122.7V127.6M506.5 126.7V138.7M507.5 114.8V130.0M508.5 120.4V123.9M509.5 125.1V135.3M510.5 126.7V129.3M511.5 122.5V126.1M512.5 121.2V133.6M513.5 125.1V129.1M514.5 123.2V128.8M515.5 124.1V127.3M516.5 126.9V133.6M517.5 125.4V126.1M518.5 128.8V132.3M519.5 122.8V134.5M520.5 126.8V131.4M521.5 122.7V127.6M522.5 125.8V127.4M523.5 126.5V130.0M524.5 125.2V126.3M525.5 129.4V132.3M526.5 122.6V132.8M527.5 128.9V129.4M528.5 126.9V128.5M529.5 124.7V126.7M530.5 128.7V130.9M531.5 121.9V124.0M532.5 126.2V127.3M533.5 126.0V127.5M534.5 125.1V128.5M535.5 126.5V129.2M536.5 124.6V125.4M537.5 127.4V129.8M538.5 124.5V126.0M539.5 127.1V130.7M540.5 122.9V127.1M541.5 127.6V128.3M542.5 123.7V126.6M543.5 126.0V128.8M544.5 123.0V129.1M545.5 124.3V132.8M546.5 127.4V129.4M547.5 123.1V123.6M548.5 127.5V131.9M549.5 125.1V127.0M550.5 126.3V129.6M551.5 125.1V127.9M552.5 127.0V128.5M553.5 125.7V127.2M554.5 127.7V128.9M555.5 124.9V125.8M556.5 127.2V129.9M557.5 123.8V127.3M558.5 125.2V127.6M559.5 127.1V128.5M560.5 125.5V130.3M561.5 125.0V128.1M562.5 125.3V127.6M563.5 126.6V127.3M564.5 126.4V127.3M565.5 125.3V128.3M566.5 126.0V127.7M567.5 127.1V128.7M568.5 123.9V125.3M569.5 127.3V128.2M570.5 124.9V126.2M571.5 126.2V131.5M572.5 125.7V127.3M573.5 126.6V127.4M574.5 126.6V128.1M575.5 124.8V126.9M576.5 125.7V127.7M577.5 126.0V127.9M578.5 125.2V127.1M579.5 127.3V129.0M580.5 125.7V127.7M581.5 125.4V127.1M582.5 125.9V128.1M583.5 125.9V128.7M584.5 125.4V126.0M585.5 127.0V128.0M586.5 125.8V126.9M587.5 127.4V128.4M588.5 125.6V126.4M589.5 126.9V128.6M590.5 126.1V126.5M591.5 127.0V128.1M592.5 125.9V127.2M593.5 126.8V128.1M594.5 127.0V128.1M595.5 125.8V126.3M596.5 127.2V127.5M597.5 125.7V126.9M598.5 127.4V127.9M599.5 124.8V126.1M600.5 126.8V128.1M601.5 125.9V126.9M602.5 126.7V127.5M603.5 126.1V126.9M604.5 126.3V127.0M605.5 126.2V127.6M606.5 125.4V126.9M607.5 127.0V127.7M608.5 125.5V126.7M609.5 127.6V128.0M610.5 126.2V126.9M611.5 126.5V127.8M612.5 126.4V127.1M613.5 125.9V126.7M614.5 126.6V127.1M615.5 126.2V126.5M616.5 126.8V127.1M617.5 126.5V126.8M618.5 126.4V127.1M619.5 127.0V127.4M620.5 126.5V127.0M621.5 126.4V127.7M622.5 126.3V127.7M623.5 126.6V127.1M624.5 126.6V127.5M625.5 126.5V127.1M626.5 126.7V127.2M627.5 126.9V127.2M628.5 126.3V126.8M629.5 126.9V127.1M630.5 127.0V127.3M631.5 126.7V127.2M632.5 126.4V127.0M633.5 126.9V127.1"/>
<path d="M58.5 360.3V361.7M59.5 360.3V361.5M60.5 360.1V361.6M61.5 360.2V361.4M62.5 360.2V361.5M63.5 360.1V361.8M64.5 360.2V361.6M65.5 360.2V361.7M66.5 360.2V361.5M67.5 360.1V361.9M68.5 360.1V361.6M69.5 360.1V361.6M70.5 359.9V361.6M71.5 359.7V361.6M72.5 360.2V361.6M73.5 359.9V361.7M74.5 360.3V361.9M75.5 360.1V362.0M76.5 360.1V361.9M77.5 360.0V361.5M78.5 359.9V361.6M79.5 360.2V361.9M80.5 360.3V361.8M81.5 360.1V361.9M82.5 360.1V361.6M83.5 360.2V361.6M84.5 360.0V361.6M85.5 360.0V361.6M86.5 360.1V361.6M87.5 360.0V362.0M88.5 360.1V361.9M89.5 360.3V361.7M90.5 359.9V361.7M91.5 360.1V361.3M92.5 360.0V361.6M93.5 359.8V361.5M94.5 360.1V361.8M95.5 360.2V362.1M96.5 360.2V362.0M97.5 360.1V361.5M98.5 359.9V361.6M99.5 360.1V361.6M100.5 360.2V361.5M101.5 360.2V361.7M102.5 360.1V361.8M103.5 360.0V361.8M104.5 359.8V361.8M105.5 360.0V361.8M106.5 360.2V362.0M107.5 360.2V361.9M108.5 360.0V361.8M109.5 360.0V361.4M110.5 360.2V361.6M111.5 360.1V361.9M112.5 359.9V361.6M113.5 359.8V361.6M114.5 359.8V361.3M115.5 359.8V361.8M116.5 359.9V362.1M117.5 360.2V362.3M118.5 360.1V362.1M119.5 360.2V361.9M120.5 359.3V361.3M121.5 359.2V361.6M122.5 360.0V361.5M123.5 360.3V362.0M124.5 360.0V362.6M125.5 359.5V362.1M126.5 359.8V361.5M127.5 359.5V362.0M128.5 359.5V361.9M129.5 359.6V362.0M130.5 360.2V362.0M131.5 359.7V362.5M132.5 359.8V361.9M133.5 359.4V361.6M134.5 360.0V361.8M135.5 359.5V362.2M136.5 359.8V362.0M137.5 360.3V362.2M138.5 359.9V362.0M139.5 360.3V362.1M140.5 359.6V361.5M141.5 360.0V361.3M142.5 359.8V361.6M143.5 360.1V361.5M144.5 360.0V361.9M145.5 360.0V361.9M146.5 360.3V361.8M147.5 360.0V362.0M148.5 360.2V361.9M149.5 360.0V361.9M150.5 360.3V361.9M151.5 359.8V361.6M152.5 360.1V361.5M153.5 360.1V361.5M154.5 360.3V361.8M155.5 360.4V362.0M156.5 360.0V361.9M157.5 359.9V361.7M158.5 359.8V361.8M159.5 360.2V362.1M160.5 360.4V361.7M161.5 360.4V361.7M162.5 360.0V361.6M163.5 359.6V361.5M164.5 360.1V361.5M165.5 360.2V361.8M166.5 360.5V362.1M167.5 360.4V362.1M168.5 360.1V361.9M169.5 359.7V361.4M170.5 359.8V361.6M171.5 360.2V361.6M172.5 360.1V361.7M173.5 360.0V362.0M174.5 360.1V361.6M175.5 360.0V361.7M176.5 359.9V361.8M177.5 360.3V361.8M178.5 360.0V362.0M179.5 360.4V361.9M180.5 360.1V362.0M181.5 360.1V361.6M182.5 360.1V361.9M183.5 359.0V362.0M184.5 359.6V362.4M185.5 360.1V361.8M186.5 359.5V361.5M187.5 359.9V362.0M188.5 360.6V361.9M189.5 360.2V361.9M190.5 360.0V361.5M191.5 360.0V361.8M192.5 360.0V361.6M193.5 360.2V361.6M194.5 359.8V361.8M195.5 360.1V361.6M196.5 360.2V362.0M197.5 360.2V361.9M198.5 360.0V361.9M199.5 360.0V361.5M200.5 360.2V361.8M201.5 360.1V361.9M202.5 359.9V361.9M203.5 360.2V362.0M204.5 360.0V361.9M205.5 360.1V361.8M206.5 359.9V361.8M207.5 359.8V361.6M208.5 360.3V361.8M209.5 360.4V361.9M210.5 360.1V361.7M211.5 360.2V361.7M212.5 360.0V361.4M213.5 359.6V361.7M214.5 360.2V361.5M215.5 360.1V362.1M216.5 360.2V361.7M217.5 360.2V362.0M218.5 359.8V361.4M219.5 360.2V361.7M220.5 360.3V362.0M221.5 360.2V362.0M222.5 360.2V361.7M223.5 359.6V361.7M224.5 360.1V361.4M225.5 360.0V361.7M226.5 360.3V362.0M227.5 360.1V362.2M228.5 360.1V361.8M229.5 360.1V361.7M230.5 359.9V361.6M231.5 360.3V362.1M232.5 360.5V362.2M233.5 360.0V361.7M234.5 359.7V361.7M235.5 360.0V361.5M236.5 360.2V361.7M237.5 360.3V361.7M238.5 360.5V362.1M239.5 360.1V362.2M240.5 360.1V361.8M241.5 359.7V361.9M242.5 359.6V361.9M243.5 360.1V361.6M244.5 359.8V361.6M245.5 360.1V362.0M246.5 359.9V361.7M247.5 359.7V361.6M248.5 360.0V362.0M249.5 360.3V361.8M250.5 360.0V361.9M251.5 360.3V361.9M252.5 360.4V361.6M253.5 360.0V361.5M254.5 359.6V361.5M255.5 359.9V361.7M256.5 359.6V361.4M257.5 359.8V361.8M258.5 360.2V362.0M259.5 360.3V361.8M260.5 359.9V361.8M261.5 359.7V361.5M262.5 360.1V361.4M263.5 359.8V361.7M264.5 360.2V361.5M265.5 359.8V361.7M266.5 359.7V361.4M267.5 360.0V361.6M268.5 360.0V361.9M269.5 360.2V361.8M270.5 359.9V361.6M271.5 360.2V361.8M272.5 360.0V361.3M273.5 360.0V361.8M274.5 359.9V362.0M275.5 360.3V361.9M276.5 359.9V361.6M277.5 359.7V361.4M278.5 360.0V361.3M279.5 359.9V361.8M280.5 360.2V362.0M281.5 360.6V362.0M282.5 360.3V362.1M283.5 360.0V361.3M284.5 359.8V361.3M285.5 360.0V361.7M286.5 360.1V361.7M287.5 360.4V361.9M288.5 360.1V361.8M289.5 360.0V361.9M290.5 360.3V361.6M291.5 360.2V361.8M292.5 360.0V361.8M293.5 360.0V361.7M294.5 359.9V361.8M295.5 360.0V361.4M296.5 360.1V361.6M297.5 359.9V361.7M298.5 360.1V361.9M299.5 359.8V361.5M300.5 359.9V361.7M301.5 360.3V361.9M302.5 360.0V361.8M303.5 360.3V362.0M304.5 360.1V361.7M305.5 359.8V361.5M306.5 360.0V361.5M307.5 360.2V361.4M308.5 360.1V361.8M309.5 360.1V361.7M310.5 360.3V361.7M311.5 359.9V361.9M312.5 359.9V361.8M313.5 360.2V361.6M314.5 360.0V361.4M315.5 359.9V361.5M316.5 360.3V361.8M317.5 360.0V362.0M318.5 360.2V361.7M319.5 360.0V361.6M320.5 359.9V361.4M321.5 359.7V361.7M322.5 360.1V361.7M323.5 360.2V362.2M324.5 360.2V361.8M325.5 360.0V362.0M326.5 359.7V361.5M327.5 359.4V361.4M328.5 359.7V361.8M329.5 360.6V361.9M330.5 360.0V362.3M331.5 360.1V362.3M332.5 359.7V361.7M333.5 359.8V361.8M334.5 360.1V361.9M335.5 359.7V362.0M336.5 360.2V361.6M337.5 359.6V361.9M338.5 360.1V362.2M339.5 360.3V361.7M340.5 360.6V362.2M341.5 360.1V362.3M342.5 360.2V362.0M343.5 360.0V361.6M344.5 360.0V361.5M345.5 360.3V361.9M346.5 360.4V362.0M347.5 360.2V361.9M348.5 359.9V361.6M349.5 359.7V361.8M350.5 360.1V361.6M351.5 360.1V361.7M352.5 360.3V361.9M353.5 360.0V361.7M354.5 359.9V361.8M355.5 359.8V361.3M356.5 359.7V361.5M357.5 359.9V361.7M358.5 360.1V361.9M359.5 360.2V361.8M360.5 360.1V361.8M361.5 360.0V361.8M362.5 360.0V361.6M363.5 360.1V361.5M364.5 359.9V361.8M365.5 359.9V361.5M366.5 360.0V361.7M367.5 360.3V361.6M368.5 359.9V361.9M369.5 360.1V361.8M370.5 359.9V361.6M371.5 360.1V361.7M372.5 360.3V361.6M373.5 360.2V361.9M374.5 360.0V361.8M375.5 360.0V361.5M376.5 359.7V361.5M377.5 359.9V361.8M378.5 360.1V361.9M379.5 360.3V361.7M380.5 359.8V361.7M381.5 360.3V361.6M382.5 359.9V361.7M383.5 360.1V362.0M384.5 359.6V361.9M385.5 359.7V361.3M386.5 359.3V361.8M387.5 359.5V361.8M388.5 359.9V362.1M389.5 360.1V362.3M390.5 360.5V362.3M391.5 359.7V361.6M392.5 360.0V361.4M393.5 360.2V361.6M394.5 360.4V361.8M395.5 360.6V362.0M396.5 360.2V361.9M397.5 359.9V361.4M398.5 359.6V361.7M399.5 359.8V361.4M400.5 360.3V361.8M401.5 360.4V361.8M402.5 357.6V358.7M403.5 355.0V360.9M404.5 363.3V365.5M405.5 353.4V360.9M406.5 356.7V364.9M407.5 359.1V368.2M408.5 355.6V360.9M409.5 359.4V368.1M410.5 347.4V358.3M411.5 360.4V374.1M412.5 345.2V360.8M413.5 359.0V362.3M414.5 362.5V373.6M415.5 341.9V355.3M416.5 361.3V369.5M417.5 351.6V355.8M418.5 340.8V369.3M419.5 351.0V352.9M420.5 347.4V370.2M421.5 357.0V371.4M422.5 348.4V359.9M423.5 340.8V374.5M424.5 356.0V368.3M425.5 354.6V363.8M426.5 369.1V373.4M427.5 350.4V359.2M428.5 353.9V360.8M429.5 366.1V376.8M430.5 343.2V353.0M431.5 359.0V373.9M432.5 356.5V368.2M433.5 343.0V354.4M434.5 373.1V382.6M435.5 327.6V387.2M436.5 342.9V345.3M437.5 334.2V370.5M438.5 363.1V389.5M439.5 325.2V345.8M440.5 346.4V374.4M441.5 360.0V403.3M442.5 324.8V350.0M443.5 376.2V404.4M444.5 323.1V465.4M445.5 303.4V396.0M446.5 397.3V411.0M447.5 315.1V323.6M448.5 331.9V357.4M449.5 381.1V395.1M450.5 358.7V382.6M451.5 335.3V341.9M452.5 371.0V402.5M453.5 387.1V437.1M454.5 328.3V361.6M455.5 263.8V352.0M456.5 367.6V381.8M457.5 393.1V402.7M458.5 339.0V365.1M459.5 321.5V351.0M460.5 321.0V379.2M461.5 356.4V397.5M462.5 335.1V349.0M463.5 358.8V375.6M464.5 327.6V380.7M465.5 348.3V353.8M466.5 337.7V358.8M467.5 374.5V383.9M468.5 360.1V401.0M469.5 332.5V346.3M470.5 348.7V377.7M471.5 318.8V401.3M472.5 301.2V363.8M473.5 309.9V430.9M474.5 370.8V383.0M475.5 310.0V383.0M476.5 341.3V345.1M477.5 353.8V394.0M478.5 362.5V389.5M479.5 343.3V354.0M480.5 344.8V383.5M481.5 367.1V375.0M482.5 327.0V360.2M483.5 314.0V354.7M484.5 367.3V401.6M485.5 348.6V371.4M486.5 336.8V352.0M487.5 352.0V367.3M488.5 368.6V377.8M489.5 360.0V366.9M490.5 345.7V351.1M491.5 359.6V365.3M492.5 362.0V373.2M493.5 330.3V348.2M494.5 343.8V377.8M495.5 368.4V375.3M496.5 367.1V375.7M497.5 345.7V354.8M498.5 350.1V363.2M499.5 370.2V378.5M500.5 348.3V356.8M501.5 351.4V366.0M502.5 363.0V365.8M503.5 344.7V353.7M504.5 359.2V365.7M505.5 365.3V368.0M506.5 346.0V361.5M507.5 354.4V363.0M508.5 362.2V366.2M509.5 357.3V366.5M510.5 350.4V354.7M511.5 340.3V368.5M512.5 371.2V371.7M513.5 353.6V366.0M514.5 345.0V354.5M515.5 360.4V364.5M516.5 366.0V375.0M517.5 349.8V360.3M518.5 352.7V357.3M519.5 364.0V371.4M520.5 358.6V366.0M521.5 348.0V381.6M522.5 360.4V365.1M523.5 343.2V365.9M524.5 354.9V358.7M525.5 349.8V354.9M526.5 347.9V365.0M527.5 366.4V370.2M528.5 354.5V359.3M529.5 352.8V360.1M530.5 363.5V367.3M531.5 356.8V368.9M532.5 343.0V351.4M533.5 361.0V369.5M534.5 358.2V369.0M535.5 352.9V357.5M536.5 362.8V368.3M537.5 358.4V361.1M538.5 359.3V367.3M539.5 352.0V366.2M540.5 356.8V368.7M541.5 358.1V360.3M542.5 362.2V363.6M543.5 356.3V369.3M544.5 362.8V366.4M545.5 357.4V359.5M546.5 360.5V368.3M547.5 357.1V361.0M548.5 362.1V369.1M549.5 355.9V363.5M550.5 359.1V372.1M551.5 349.8V362.8M552.5 356.6V364.4M553.5 356.8V366.1M554.5 352.8V361.9M555.5 347.9V363.2M556.5 352.7V356.9M557.5 361.0V365.5M558.5 356.7V359.1M559.5 351.7V364.9M560.5 357.6V373.0M561.5 362.8V366.3M562.5 357.3V362.6M563.5 353.6V362.2M564.5 358.7V361.8M565.5 357.9V362.9M566.5 355.6V362.9M567.5 358.4V362.9M568.5 359.0V363.2M569.5 355.4V357.4M570.5 363.2V365.0M571.5 357.6V364.9M572.5 356.3V358.8M573.5 362.2V367.1M574.5 362.2V365.5M575.5 351.6V356.0M576.5 362.6V365.7M577.5 366.4V369.4M578.5 355.2V359.9M579.5 355.7V358.5M580.5 365.9V369.6M581.5 359.9V366.4M582.5 355.3V357.2M583.5 364.8V365.6M584.5 362.2V369.1M585.5 359.6V360.6M586.5 358.2V360.6M587.5 367.1V367.7M588.5 359.9V363.5M589.5 356.7V358.0M590.5 359.8V363.0M591.5 363.6V365.7M592.5 358.2V361.9M593.5 357.3V358.8M594.5 363.0V363.6M595.5 362.4V364.4M596.5 358.1V359.3M597.5 358.5V360.7M598.5 361.3V363.6M599.5 360.7V362.6M600.5 359.2V359.5M601.5 358.9V360.1M602.5 362.3V362.9M603.5 360.2V361.4M604.5 359.0V359.5M605.5 361.0V362.4M606.5 363.1V364.3M607.5 359.3V361.4M608.5 358.7V360.2M609.5 361.5V362.9M610.5 363.2V364.0M611.5 357.8V360.0M612.5 358.1V359.1M613.5 362.3V363.5M614.5 360.1V362.0M615.5 358.3V358.9M616.5 361.8V363.6M617.5 359.8V362.3M618.5 358.8V359.8M619.5 361.0V362.2M620.5 360.6V361.6M621.5 359.5V360.0M622.5 361.1V361.6M623.5 360.5V361.0M624.5 360.4V360.6M625.5 361.2V361.4M626.5 359.9V360.2M627.5 361.1V361.3M628.5 360.7V361.0M629.5 360.2V360.6M630.5 361.0V361.0M631.5 360.7V361.0M632.5 360.4V360.5M633.5 360.9V361.0"/>
</g>
<g stroke="#222" stroke-width="1.1" stroke-opacity="0.45">
<line x1="58" y1="126.7" x2="68" y2="126.7"/><line x1="624" y1="126.7" x2="634" y2="126.7"/>
<line x1="58" y1="360.6" x2="68" y2="360.6"/><line x1="624" y1="360.6" x2="634" y2="360.6"/>
</g>
</svg>
</body></html>
